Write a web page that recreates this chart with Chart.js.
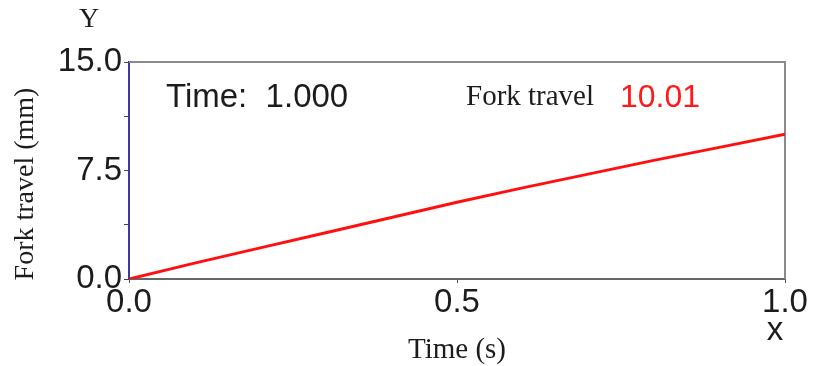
<!DOCTYPE html>
<html>
<head>
<meta charset="utf-8">
<title>Fork travel</title>
<script src="https://cdn.jsdelivr.net/npm/chart.js@4/dist/chart.umd.min.js"></script>
<style>
  html, body { margin: 0; padding: 0; background: #ffffff; }
  #wrap { width: 814px; height: 366px; }
</style>
</head>
<body>
<div id="wrap"><canvas id="c" width="814" height="366"></canvas></div>
<script>
// Fork travel against time for one second of the run
const timeSeconds = [0, 0.1, 0.2, 0.3, 0.4, 0.5, 0.6, 0.7, 0.8, 0.9, 1.0];
const forkTravelMm = [0, 1.1, 2.15, 3.2, 4.25, 5.3, 6.3, 7.25, 8.2, 9.1, 10.01];
const yTickLabels = ['0.0', '7.5', '15.0'];
const xTickLabels = ['0.0', '0.5', '1.0'];

const SANS = '"Liberation Sans", Arial, sans-serif';
const SERIF = '"Liberation Serif", "Times New Roman", serif';
const INK = '#1c1c1c';

const points = timeSeconds.map((t, i) => ({ x: t, y: forkTravelMm[i] }));

// Frame, axis letters, titles and the current-value readout
const overlay = {
  id: 'overlay',
  beforeDatasetsDraw(chart) {
    const { ctx, chartArea: a } = chart;
    ctx.save();
    ctx.strokeStyle = '#8a8a8a';
    ctx.lineWidth = 2;
    ctx.beginPath();
    ctx.moveTo(a.left, a.top);
    ctx.lineTo(a.right, a.top);
    ctx.lineTo(a.right, a.bottom);
    ctx.stroke();
    ctx.restore();
  },
  afterDraw(chart) {
    const { ctx, chartArea: a } = chart;
    const h = chart.height;
    ctx.save();
    ctx.fillStyle = INK;

    // axis letters
    ctx.textAlign = 'center';
    ctx.textBaseline = 'alphabetic';
    ctx.font = '28px ' + SERIF;
    ctx.fillText('Y', a.left - 40, 27);
    ctx.font = '33px ' + SANS;
    ctx.fillText('x', a.right - 10, 340);

    // x title
    ctx.font = '29px ' + SERIF;
    ctx.fillText('Time (s)', (a.left + a.right) / 2, h - 8);

    // y title
    ctx.save();
    ctx.font = '28px ' + SERIF;
    ctx.translate(33, 184);
    ctx.rotate(-Math.PI / 2);
    ctx.fillText('Fork travel (mm)', 0, 0);
    ctx.restore();

    // readout of the last sample
    const lastT = timeSeconds[timeSeconds.length - 1];
    const lastV = forkTravelMm[forkTravelMm.length - 1];
    ctx.textAlign = 'left';
    ctx.font = '33px ' + SANS;
    ctx.fillText('Time:  ' + lastT.toFixed(3), a.left + 37, a.top + 45);
    ctx.font = '29px ' + SERIF;
    ctx.fillText('Fork travel', a.left + 337, a.top + 43);
    ctx.fillStyle = '#ff1a1a';
    ctx.font = '32px ' + SANS;
    ctx.fillText(lastV.toFixed(2), a.left + 491, a.top + 45);
    ctx.restore();
  }
};

new Chart(document.getElementById('c'), {
  type: 'line',
  data: {
    datasets: [{
      label: 'Fork travel',
      data: points,
      borderColor: '#ff1010',
      borderWidth: 3,
      pointRadius: 0,
      tension: 0,
      fill: false
    }]
  },
  options: {
    responsive: false,
    animation: false,
    events: [],
    layout: { padding: { top: 62, right: 29, left: 0, bottom: 0 } },
    plugins: {
      legend: { display: false },
      tooltip: { enabled: false },
      title: { display: false }
    },
    scales: {
      x: {
        type: 'linear',
        min: 0,
        max: 1,
        afterFit(s) { s.height = 87; },
        ticks: {
          stepSize: 0.5,
          color: INK,
          font: { family: SANS, size: 33 },
          padding: 0,
          maxRotation: 0,
          callback: (v) => {
            const i = Math.round(v / 0.5);
            return Math.abs(v - i * 0.5) < 1e-6 ? xTickLabels[i] : '';
          }
        },
        grid: { drawOnChartArea: false, tickLength: 4, color: '#555', lineWidth: 1 },
        border: { display: true, color: '#666666', width: 2 }
      },
      y: {
        min: 0,
        max: 15,
        afterFit(s) { s.width = 129; },
        ticks: {
          stepSize: 3.75,
          color: INK,
          font: { family: SANS, size: 33 },
          padding: 2,
          callback: (v) => {
            const i = Math.round(v / 7.5);
            return Math.abs(v - i * 7.5) < 1e-6 ? yTickLabels[i] : '';
          }
        },
        grid: { drawOnChartArea: false, tickLength: 5, color: '#444', lineWidth: 1 },
        border: { display: true, color: '#3b3b9e', width: 2 }
      }
    }
  },
  plugins: [overlay]
});
</script>
</body>
</html>
